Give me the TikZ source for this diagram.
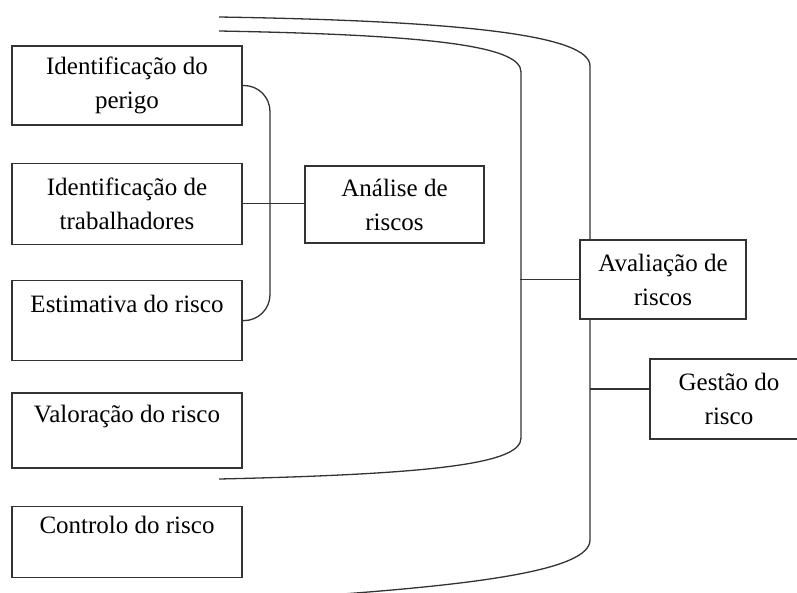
\documentclass[tikz,border=0pt]{standalone}
\usepackage{fontspec}
\setmainfont{Liberation Serif}
\usetikzlibrary{positioning,backgrounds}
\tikzset{
  caixa/.style = {align=center, inner sep=0pt, text centered,
    font=\fontsize{25}{34}\selectfont},
  cx_e/.style = {caixa, rectangle, draw=black!80, fill=white,
    line width=1.3pt, minimum width=230pt},% caixa da esquerda
  cx_d/.style = {caixa, rectangle, draw=black!80, fill=white,
    line width=1.3pt},% caixa da direita
  ligacao/.style = {draw=black!80, line width=1.3pt}% linha de ligacao
}
\begin{document}
\begin{tikzpicture}[x=1pt,y=-1pt]
        \useasboundingbox (0,0) rectangle (797,592);
        % coluna da esquerda
        \node [cx_e, minimum height=79pt] (perigo) at (127,85.5) {Identificação do\\perigo};
        \node [cx_e, minimum height=81pt, below=37pt of perigo] (trab) {Identificação de\\trabalhadores};
        \node [cx_e, minimum height=80pt, below=35pt of trab] (estim) {Estimativa do risco\\\mbox{}};
        \node [cx_e, minimum height=75pt, below=31pt of estim] (valor) {Valoração do risco\\\mbox{}};
        \node [cx_e, minimum height=71pt, below=37pt of valor] (contr) {Controlo do risco\\\mbox{}};
        % caixas da direita
        \node [cx_d, minimum width=179pt, minimum height=77pt] (analise) at (394.5,204.5) {Análise de\\riscos};
        \node [cx_d, minimum width=166pt, minimum height=79pt] (aval) at (663,279.5) {Avaliação de\\riscos};
        \node [cx_d, minimum width=158pt, minimum height=80pt] (gestao) at (729,399) {Gestão do\\risco};
        \coordinate (brk) at (270,200);
        \coordinate (gl) at (590,389);
        % chavetas grandes
        \begin{scope}[on background layer]
          \draw [ligacao] (219,31) .. controls (440,35) and (521,47) .. (521,72)
            -- (521,438) .. controls (521,463) and (440,474) .. (219,479);
          \draw [ligacao] (219,17) .. controls (470,21) and (590,36) .. (590,66)
            -- (590,540) .. controls (590,570) and (480,585) .. (300,597);
        \end{scope}
        % ligacoes
        \draw [ligacao, rounded corners=26pt] (perigo.east) -| (brk) |- (estim.east);
        \draw [ligacao] (trab.east) -- (trab.east -| analise.west);
        \draw [ligacao] (aval.west) -- ++(-59,0);
        \draw [ligacao] (gl) -- (gl -| gestao.west);
\end{tikzpicture}
\end{document}
